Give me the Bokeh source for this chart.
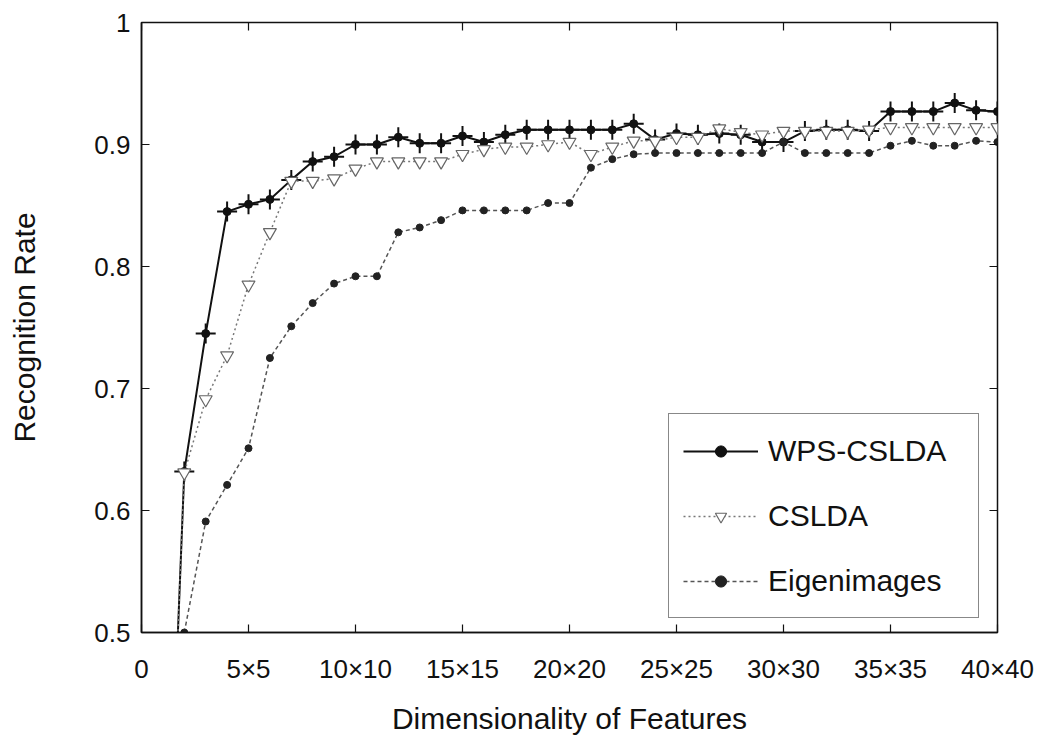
import math
from bokeh.plotting import figure
from bokeh.models import FixedTicker, Range1d
from bokeh.embed import file_html
from bokeh.resources import INLINE

# ---- data ----
dims = list(range(1, 41))
wps_cslda = [0.19, 0.632, 0.745, 0.845, 0.851, 0.855, 0.871, 0.886, 0.890, 0.900,
             0.900, 0.906, 0.901, 0.901, 0.907, 0.902, 0.908, 0.912, 0.912, 0.912,
             0.912, 0.912, 0.917, 0.904, 0.909, 0.908, 0.909, 0.908, 0.902, 0.902,
             0.911, 0.912, 0.912, 0.911, 0.927, 0.927, 0.927, 0.934, 0.928, 0.927]
cslda = [0.19, 0.631, 0.691, 0.727, 0.785, 0.828, 0.870, 0.870, 0.872, 0.880,
         0.886, 0.886, 0.886, 0.886, 0.892, 0.896, 0.898, 0.898, 0.900, 0.902,
         0.892, 0.898, 0.903, 0.903, 0.906, 0.906, 0.913, 0.910, 0.908, 0.911,
         0.911, 0.911, 0.911, 0.912, 0.914, 0.914, 0.914, 0.914, 0.914, 0.914]
eigen_dims = list(range(2, 41))
eigen = [0.500, 0.591, 0.621, 0.651, 0.725, 0.751, 0.770, 0.786, 0.792,
         0.792, 0.828, 0.832, 0.838, 0.846, 0.846, 0.846, 0.846, 0.852, 0.852,
         0.881, 0.888, 0.892, 0.893, 0.893, 0.893, 0.893, 0.893, 0.893, 0.902,
         0.893, 0.893, 0.893, 0.893, 0.899, 0.903, 0.899, 0.899, 0.903, 0.902]

x_ticks = [0, 5, 10, 15, 20, 25, 30, 35, 40]
x_tick_labels = ["0", "5×5", "10×10", "15×15", "20×20", "25×25", "30×30", "35×35", "40×40"]
y_ticks = [0.5, 0.6, 0.7, 0.8, 0.9, 1.0]
y_tick_labels = ["0.5", "0.6", "0.7", "0.8", "0.9", "1"]

FONT = "Liberation Sans"
INK = "#111111"

p = figure(width=1042, height=737, output_backend="svg", toolbar_location=None,
           x_range=Range1d(0, 40), y_range=Range1d(0.5, 1.0),
           min_border_left=141, min_border_right=45, min_border_top=22,
           min_border_bottom=103)
p.background_fill_color = "white"
p.border_fill_color = "white"
p.outline_line_color = INK
p.outline_line_width = 1.5
p.grid.visible = False

# series
p.line(dims, wps_cslda, line_color=INK, line_width=2, legend_label="WPS-CSLDA")
p.scatter(dims, wps_cslda, marker="cross", size=20, line_color=INK,
          line_width=2, legend_label="WPS-CSLDA")
p.scatter(dims, wps_cslda, marker="circle", size=8, fill_color=INK,
          line_color=INK, legend_label="WPS-CSLDA")

p.line(dims, cslda, line_color="#777777", line_width=1.5, line_dash="2 3",
       legend_label="CSLDA")
p.scatter(dims, cslda, marker="inverted_triangle", size=13, fill_color="white",
          line_color="#666666", line_width=1.2, legend_label="CSLDA")

p.line(eigen_dims, eigen, line_color="#555555", line_width=1.5, line_dash="4 3",
       legend_label="Eigenimages")
p.scatter(eigen_dims, eigen, marker="circle", size=7, fill_color="#222222",
          line_color="#222222", legend_label="Eigenimages")

# inward ticks on the top and right frame edges (MATLAB box style)
p.ray(x=x_ticks, y=[y_ticks[-1]] * len(x_ticks), length=8, length_units="screen",
      angle=-math.pi / 2, line_color=INK, line_width=1.2)
p.ray(x=[x_ticks[-1]] * len(y_ticks), y=y_ticks, length=8, length_units="screen",
      angle=math.pi, line_color=INK, line_width=1.2)

# axes
xa = p.xaxis[0]
xa.ticker = FixedTicker(ticks=x_ticks)
xa.major_label_overrides = {t: l for t, l in zip(x_ticks, x_tick_labels)}
xa.axis_label = "Dimensionality of Features"
xa.major_label_standoff = 21
xa.axis_label_standoff = 15

ya = p.yaxis[0]
ya.ticker = FixedTicker(ticks=y_ticks)
ya.major_label_overrides = {t: l for t, l in zip(y_ticks, y_tick_labels)}
ya.axis_label = "Recognition Rate"
ya.major_label_standoff = 11
ya.axis_label_standoff = 50

for ax in (xa, ya):
    ax.major_label_text_font = FONT
    ax.major_label_text_font_size = "26px"
    ax.major_label_text_color = INK
    ax.axis_label_text_font = FONT
    ax.axis_label_text_font_size = "30px"
    ax.axis_label_text_font_style = "normal"
    ax.axis_label_text_color = INK
    ax.major_tick_in = 8
    ax.major_tick_out = 0
    ax.minor_tick_line_color = None
    ax.axis_line_color = INK
    ax.axis_line_width = 1.5
    ax.major_tick_line_color = INK
    ax.major_tick_line_width = 1.2

# legend
lg = p.legend[0]
lg.location = (527, 14)
lg.label_text_font = FONT
lg.label_text_font_size = "30px"
lg.label_text_color = INK
lg.glyph_width = 75
lg.glyph_height = 28
lg.label_height = 45
lg.label_width = 196
lg.label_standoff = 10
lg.spacing = 20
lg.padding = 14
lg.margin = 0
lg.border_line_color = INK
lg.border_line_width = 1.5
lg.background_fill_color = "white"
lg.background_fill_alpha = 1.0

open("out.html", "w").write(file_html(p, INLINE))
